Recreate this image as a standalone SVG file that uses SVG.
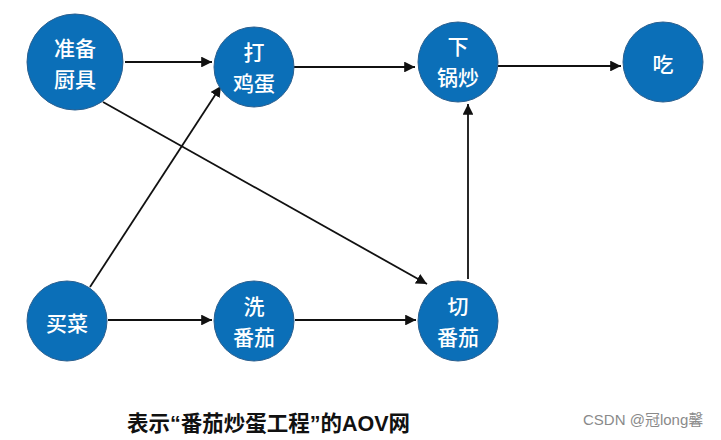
<svg xmlns="http://www.w3.org/2000/svg" width="721" height="440" viewBox="0 0 721 440">
<defs>
<style>
.node circle{fill:#0b6fb8;stroke:#2a5f8f;stroke-width:1}
.node text{fill:#fff;font-family:"Noto Sans CJK SC","Noto Sans",sans-serif;font-size:21px;font-weight:500;text-anchor:middle;dominant-baseline:central}
.edge{stroke:#111;stroke-width:1.8;fill:none;marker-end:url(#arr)}
.title{font-family:"Liberation Sans","Noto Sans CJK SC",sans-serif;font-size:21.5px;font-weight:700;fill:#111}
.wm{font-family:"Liberation Sans","Noto Sans CJK SC",sans-serif;font-size:15px;fill:#8a8a8a}
</style>
<marker id="arr" viewBox="0 0 10 10" refX="10" refY="5" markerWidth="6" markerHeight="6" markerUnits="strokeWidth" orient="auto">
<path d="M0,0 L10,5 L0,10 z" fill="#111"/>
</marker>
</defs>
<rect width="721" height="440" fill="#fff"/>
<g id="connectors">
<line class="edge" x1="125" y1="62" x2="212" y2="62"/>
<line class="edge" x1="294" y1="67" x2="415" y2="67"/>
<line class="edge" x1="498" y1="66" x2="621" y2="66"/>
<line class="edge" x1="108" y1="320" x2="212" y2="320"/>
<line class="edge" x1="295" y1="320" x2="416" y2="320"/>
<line class="edge" x1="468" y1="279" x2="468" y2="104"/>
<line class="edge" x1="90" y1="287" x2="221" y2="86"/>
<line class="edge" x1="103" y1="102" x2="427" y2="284"/>
</g>
<g id="n1" class="node"><circle cx="75" cy="62" r="48"/><text x="75" y="47">准备</text><text x="75" y="78">厨具</text></g>
<g id="n2" class="node"><circle cx="254" cy="67" r="40"/><text x="254" y="51">打</text><text x="254" y="82">鸡蛋</text></g>
<g id="n3" class="node"><circle cx="458" cy="62" r="40"/><text x="458" y="45">下</text><text x="458" y="76">锅炒</text></g>
<g id="n4" class="node"><circle cx="663" cy="62" r="40"/><text x="663" y="63">吃</text></g>
<g id="n5" class="node"><circle cx="67" cy="321" r="40"/><text x="67" y="322">买菜</text></g>
<g id="n6" class="node"><circle cx="254" cy="321" r="40"/><text x="254" y="305">洗</text><text x="254" y="336">番茄</text></g>
<g id="n7" class="node"><circle cx="458" cy="321" r="40"/><text x="458" y="305">切</text><text x="458" y="336">番茄</text></g>
<text class="title" x="127" y="431">表示“番茄炒蛋工程”的AOV网</text>
<text class="wm" x="583" y="425">CSDN @冠long馨</text>
</svg>
